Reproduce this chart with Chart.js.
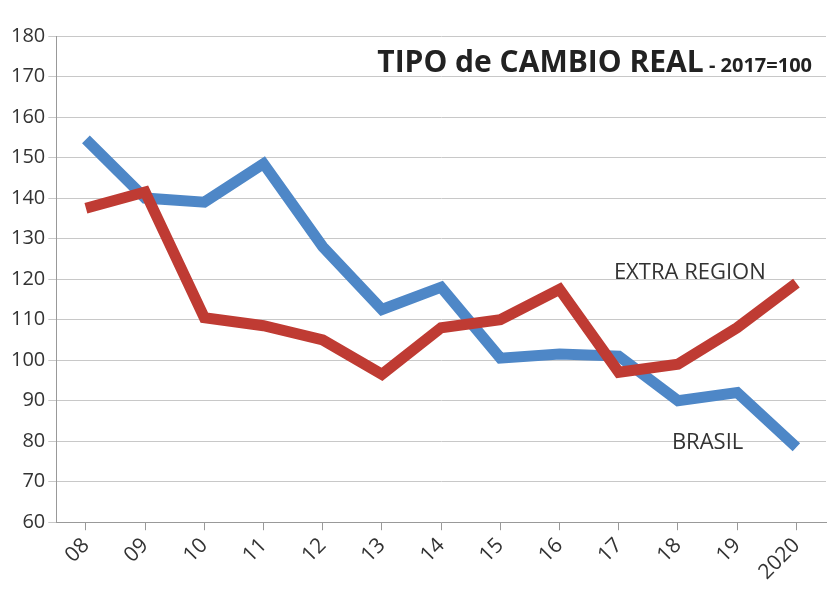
<!DOCTYPE html>
<html>
<head>
<meta charset="utf-8">
<script src="https://cdn.jsdelivr.net/npm/chart.js@4"></script>
<style>
  html, body { margin: 0; padding: 0; background: #fff; }
  #wrap { width: 840px; height: 594px; }
</style>
</head>
<body>
<div id="wrap"><canvas id="c"></canvas></div>
<script>
const years = ['08', '09', '10', '11', '12', '13', '14', '15', '16', '17', '18', '19', '2020'];
const brasil = [154.5, 140, 139, 148.5, 128, 112.5, 118, 100.5, 101.5, 101, 90, 92, 78.5];
const extraRegion = [137.5, 141.5, 110.5, 108.5, 105, 96.5, 108, 110, 117.5, 97, 99, 108, 119];
const yTicks = [60, 70, 80, 90, 100, 110, 120, 130, 140, 150, 160, 170, 180];

// labels inside the plot
const textPlugin = {
    id: 'texts',
    afterDraw(chart) {
        const ctx = chart.ctx;
        const x = chart.scales.x, y = chart.scales.y;
        ctx.save();
        ctx.fillStyle = '#222';
        ctx.textBaseline = 'alphabetic';
        ctx.textAlign = 'right';
        const sub = ' - 2017=100';
        ctx.font = 'bold 20px "Open Sans", sans-serif';
        const subW = ctx.measureText(sub).width;
        ctx.fillText(sub, 812, 72);
        ctx.font = 'bold 30px "Open Sans", sans-serif';
        ctx.fillText('TIPO de CAMBIO REAL', 812 - subW, 72);

        ctx.font = '22px "Open Sans", sans-serif';
        ctx.fillStyle = '#333';
        ctx.textAlign = 'center';
        ctx.fillText('EXTRA REGION', x.getPixelForValue(10.2), y.getPixelForValue(120));
        ctx.fillText('BRASIL', x.getPixelForValue(10.5), y.getPixelForValue(78));
        ctx.restore();
    }
};

new Chart(document.getElementById('c').getContext('2d'), {
    type: 'line',
    data: {
        labels: years,
        datasets: [
            { label: 'EXTRA REGION', data: extraRegion, borderColor: '#bf3b33', borderWidth: 11, pointRadius: 0, tension: 0 },
            { label: 'BRASIL', data: brasil, borderColor: '#4e87c7', borderWidth: 11, pointRadius: 0, tension: 0 }
        ]
    },
    options: {
        responsive: true,
        maintainAspectRatio: false,
        animation: false,
        layout: { padding: { top: 36, right: 14, left: 8, bottom: 6 } },
        plugins: { legend: { display: false }, tooltip: { enabled: false } },
        scales: {
            x: {
                offset: true,
                grid: { drawOnChartArea: false, color: '#999', tickLength: 8 },
                border: { color: '#999' },
                ticks: { color: '#333', font: { size: 21, family: '"Open Sans", sans-serif' }, maxRotation: 45, minRotation: 45 }
            },
            y: {
                min: 60, max: 180,
                afterBuildTicks: axis => { axis.ticks = yTicks.map(v => ({ value: v })); },
                grid: { color: '#c8c8c8', tickLength: 8 },
                border: { color: '#999' },
                ticks: { color: '#333', font: { size: 20, family: '"Open Sans", sans-serif' } }
            }
        }
    },
    plugins: [textPlugin]
});
</script>
</body>
</html>
